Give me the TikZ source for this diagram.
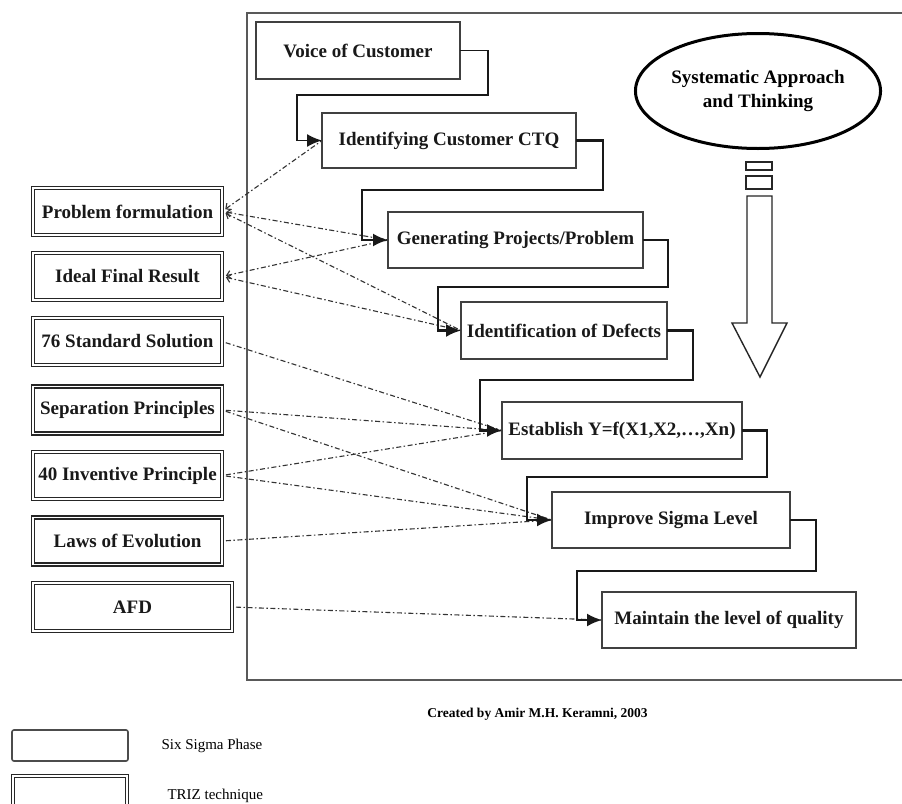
\documentclass[tikz,border=0pt]{standalone}
\usepackage{fontspec}
\setmainfont{Liberation Serif}
\usetikzlibrary{arrows.meta,shapes.geometric}
\begin{document}
\begin{tikzpicture}[x=1pt,y=-1pt,
  sbox/.style={draw=black!75, line width=1.8pt, fill=white, inner sep=0pt, outer sep=0pt, font=\fontsize{19}{22}\selectfont\bfseries, text=black!90},
  tbox/.style={draw=black!85, double=white, double distance=1.2pt, line width=1.5pt, fill=white, inner sep=0pt, outer sep=0pt, font=\fontsize{19}{22}\selectfont\bfseries, text=black!90, minimum width=189pt, minimum height=47pt},
  flow/.style={line width=2.2pt, draw=black!90, -{Latex[length=15pt,width=13pt]}},
  link/.style={draw=black!80, line width=1.1pt, dash pattern=on 5pt off 2.5pt on 1.5pt off 2.5pt, shorten <=4pt, shorten >=1pt},
  barb/.style={{Straight Barb[length=4pt,width=8pt]}-}
]
\useasboundingbox (0,0) rectangle (902,803);
\clip (0,0) rectangle (902,803);
\fill[white] (0,0) rectangle (902,803);

% outer frame
\draw[black!65, line width=1.8pt] (910,13) -| (247,680) -- (910,680);

% Six Sigma phases
\node[sbox, minimum width=204pt, minimum height=57pt] (voc) at (358,50.5) {Voice of Customer};
\node[sbox, minimum width=254pt, minimum height=55pt] (ctq) at (449,140.5) {Identifying Customer CTQ};
\node[sbox, minimum width=255pt, minimum height=56pt] (gen) at (515.5,240) {Generating Projects/Problem};
\node[sbox, minimum width=206pt, minimum height=57pt] (def) at (564,330.5) {Identification of Defects};
\node[sbox, minimum width=240pt, minimum height=57pt] (est) at (622,430.5) {Establish Y=f(X1,X2,…,Xn)};
\node[sbox, minimum width=238pt, minimum height=56pt] (imp) at (671,520) {Improve Sigma Level};
\node[sbox, minimum width=254pt, minimum height=56pt] (mtn) at (729,620) {Maintain the level of quality};

% TRIZ techniques
\node[tbox] (pf)  at (127.5,211.5) {Problem formulation};
\node[tbox] (ifr) at (127.5,276.5) {Ideal Final Result};
\node[tbox] (sss) at (127.5,341.5) {76 Standard Solution};
\node[tbox] (sep) at (127.5,410) {Separation Principles};
\node[tbox] (iip) at (127.5,475.5) {40 Inventive Principle};
\node[tbox] (loe) at (127.5,541) {Laws of Evolution};
\node[tbox, minimum width=199pt, minimum height=48pt] (afd) at (132.5,607) {AFD};

% ellipse and big arrow
\node[draw=black, ellipse, line width=3pt, fill=white, minimum width=245pt, minimum height=115pt, align=center, inner sep=0pt, font=\fontsize{19}{24}\selectfont\bfseries] (sys) at (758,91) {Systematic Approach\\and Thinking};
\draw[black!85, line width=1.4pt] (746,162) rectangle (772,170);
\draw[black!85, line width=1.4pt] (746,176) rectangle (772,189);
\draw[black!85, line width=1.4pt, line join=miter] (747,196) -- (772,196) -- (772,323) -- (787,323) -- (760,377) -- (732,323) -- (747,323) -- cycle;

% TRIZ links
\draw[link, barb] (pf.east) -- (ctq.west);
\draw[link, barb] (pf.east) -- (gen.west);
\draw[link, barb] (pf.east) -- (def.west);
\draw[link, barb] (ifr.east) -- (gen.west);
\draw[link, barb] (ifr.east) -- (def.west);
\draw[link] (sss.east) -- (est.west);
\draw[link] (sep.east) -- (est.west);
\draw[link] (sep.east) -- (imp.west);
\draw[link] (iip.east) -- (est.west);
\draw[link] (iip.east) -- (imp.west);
\draw[link] (loe.east) -- (imp.west);
\draw[link] (afd.east) -- (mtn.west);

% Six Sigma flow
\draw[flow, line width=1.8pt] (voc.east) -| (488,95) -- (297,95) |- (ctq.west);
\draw[flow] (ctq.east) -| (603,190) -- (362,190) |- (gen.west);
\draw[flow] (gen.east) -| (668,287) -- (438,287) |- (def.west);
\draw[flow] (def.east) -| (693,380) -- (480,380) |- (est.west);
\draw[flow] (est.east) -| (767,477) -- (527,477) |- (imp.west);
\draw[flow] (imp.east) -| (816,571) -- (577,571) |- (mtn.west);

% credit and legend
\node[font=\fontsize{13.5}{16}\selectfont\bfseries] (credit) at (537.5,714) {Created by Amir M.H. Keramni, 2003};
\node[draw=black!70, line width=1.6pt, rounded corners=2pt, minimum width=116pt, minimum height=31pt, inner sep=0pt] (lg1) at (70,745.5) {};
\node[anchor=west, font=\fontsize{15}{18}\selectfont] (lg1t) at (158,746) {Six Sigma Phase};
\node[tbox, minimum width=114pt, minimum height=34pt] (lg2) at (70,793) {};
\node[anchor=west, font=\fontsize{15}{18}\selectfont] (lg2t) at (164,796) {TRIZ technique};
\end{tikzpicture}
\end{document}
